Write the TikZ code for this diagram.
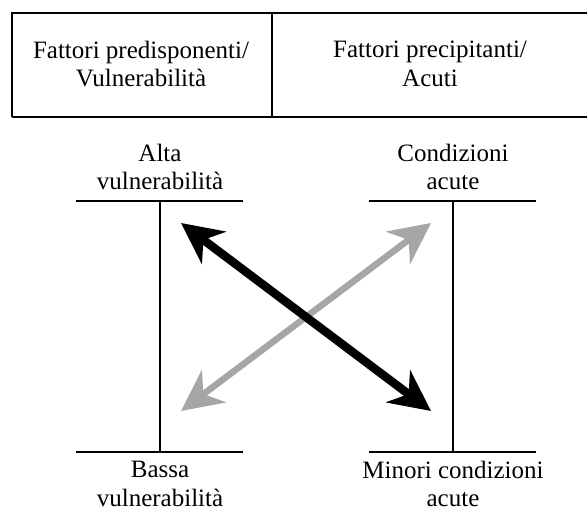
\documentclass[tikz,border=0pt]{standalone}
\usepackage{fontspec}
\setmainfont{Liberation Serif}
\usetikzlibrary{arrows.meta}
\definecolor{arrgray}{HTML}{A8A5A5}
\tikzset{
  lbl/.style={align=center, font=\fontsize{25}{28.5}\selectfont, inner sep=0pt},
  rule/.style={line width=1.8pt, draw=black},
  bigarrow/.style={line width=#1, {Stealth[length=41pt,width=40pt,inset=13pt]}-{Stealth[length=41pt,width=40pt,inset=13pt]}},
}
\begin{document}
\begin{tikzpicture}[x=1pt,y=-1pt]
\useasboundingbox (0,0) rectangle (587,511);
% table
\draw[rule] (600,13) -- (12,13) -- (12,117);
\draw[line width=2.4pt] (12,117) -- (600,117);
\draw[rule] (272,13) -- (272,117);
\node[lbl] (h1) at (141,64) {Fattori predisponenti/\\Vulnerabilità};
\node[lbl] (h2) at (430,64) {Fattori precipitanti/\\Acuti};
% left T
\coordinate (lt1) at (76,201); \coordinate (lt2) at (243,201);
\coordinate (lb1) at (76,452); \coordinate (lb2) at (243,452);
\coordinate (lv1) at (160,201); \coordinate (lv2) at (160,452);
\draw[rule] (lt1) -- (lt2); \draw[rule] (lb1) -- (lb2); \draw[rule] (lv1) -- (lv2);
% right T
\coordinate (rt1) at (369,201); \coordinate (rt2) at (536,201);
\coordinate (rb1) at (369,452); \coordinate (rb2) at (536,452);
\coordinate (rv1) at (453,201); \coordinate (rv2) at (453,452);
\draw[rule] (rt1) -- (rt2); \draw[rule] (rb1) -- (rb2); \draw[rule] (rv1) -- (rv2);
% labels
\node[lbl] (alta) at (160,167) {Alta\\vulnerabilità};
\node[lbl] (bassa) at (160,484) {Bassa\\vulnerabilità};
\node[lbl] (cond) at (453,167) {Condizioni\\acute};
\node[lbl] (minori) at (453,484) {Minori condizioni\\acute};
% arrows
\coordinate (a1) at (181,223); \coordinate (a2) at (431,411);
\coordinate (g1) at (431,223); \coordinate (g2) at (181,411);
\draw[bigarrow=6.5pt, draw=arrgray, fill=arrgray] (g2) -- (g1);
\draw[bigarrow=8.5pt, draw=black, fill=black] (a1) -- (a2);
\end{tikzpicture}
\end{document}
